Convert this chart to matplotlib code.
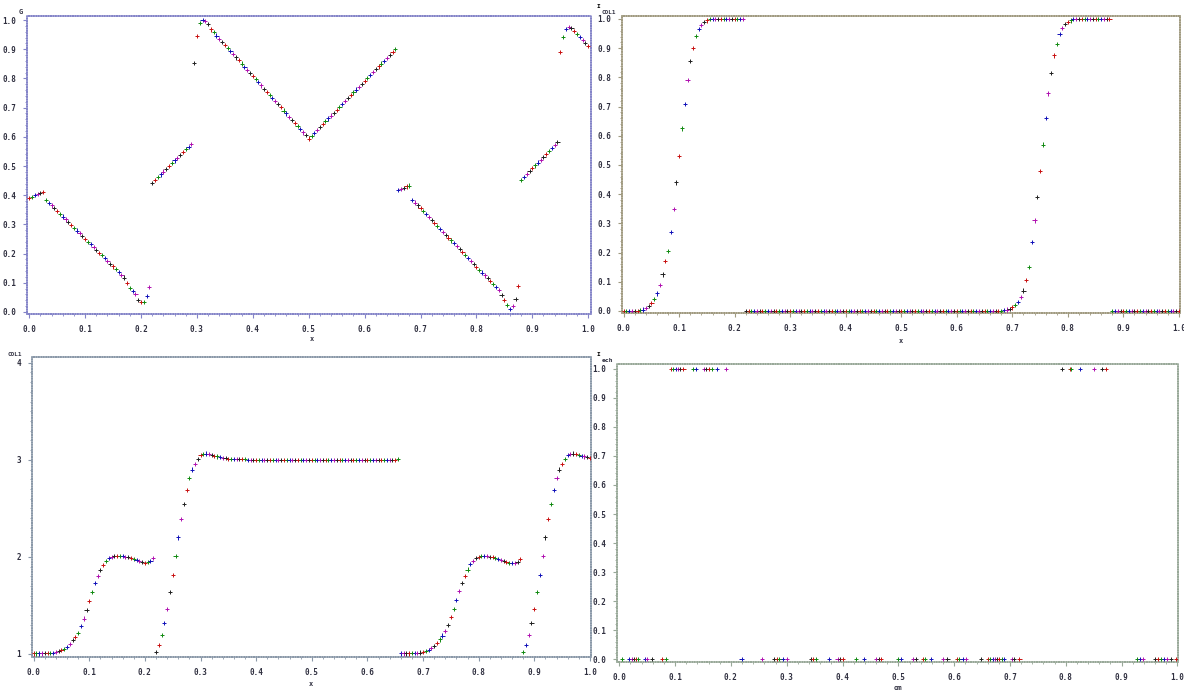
import numpy as np
import matplotlib
matplotlib.use("Agg")
import matplotlib.pyplot as plt
from matplotlib.ticker import MultipleLocator

W, H = 1184, 691

# sample positions (201 points, step 0.005)
x_grid = np.round(np.arange(201) * 0.005, 3)

# panel 1 : G
g_vals = ([0.389, 0.395, 0.400, 0.404, 0.408, 0.411]
          + [0.384, 0.374, 0.365, 0.355, 0.346, 0.336, 0.327, 0.317, 0.308, 0.298,
             0.289, 0.279, 0.270, 0.260, 0.251, 0.241, 0.232, 0.222, 0.213, 0.203,
             0.194, 0.184, 0.175, 0.165, 0.156, 0.146, 0.137, 0.127, 0.118]
          + [0.100, 0.082, 0.072, 0.062, 0.042, 0.033, 0.035, 0.055, 0.086]
          + [0.443, 0.452, 0.462, 0.471, 0.481, 0.490, 0.500, 0.509, 0.519, 0.528,
             0.538, 0.547, 0.557, 0.566, 0.576]
          + [0.852, 0.946, 0.991, 1.000, 0.997, 0.986, 0.968]
          + [0.958, 0.947, 0.936, 0.926, 0.915, 0.904, 0.894, 0.883, 0.872, 0.862,
             0.851, 0.840, 0.829, 0.819, 0.808, 0.797, 0.787, 0.776, 0.765, 0.755,
             0.744, 0.733, 0.722, 0.712, 0.701, 0.690, 0.680, 0.669, 0.658, 0.648,
             0.637, 0.626, 0.615, 0.605, 0.594]
          + [0.604, 0.614, 0.624, 0.633, 0.643, 0.653, 0.663, 0.673, 0.683, 0.693,
             0.703, 0.712, 0.722, 0.732, 0.742, 0.752, 0.762, 0.772, 0.782, 0.791,
             0.801, 0.811, 0.821, 0.831, 0.841, 0.851, 0.861, 0.870, 0.880, 0.890,
             0.900]
          + [0.418, 0.422, 0.426, 0.430, 0.433]
          + [0.385, 0.375, 0.365, 0.355, 0.345, 0.335, 0.325, 0.315, 0.305, 0.295,
             0.285, 0.275, 0.265, 0.255, 0.245, 0.235, 0.225, 0.215, 0.205, 0.195,
             0.185, 0.175, 0.165, 0.155, 0.145, 0.135, 0.125, 0.115, 0.105, 0.095,
             0.085, 0.075]
          + [0.058, 0.040, 0.024, 0.010, 0.020, 0.045, 0.088]
          + [0.452, 0.462, 0.472, 0.482, 0.492, 0.502, 0.512, 0.522, 0.532, 0.542,
             0.552, 0.562, 0.572, 0.582]
          + [0.890, 0.942, 0.970, 0.976, 0.972, 0.962, 0.952, 0.942, 0.932, 0.922,
             0.912])

# panel 2 : COL1 (0..1)
col1_a = ([0.0] * 6
          + [0.003, 0.005, 0.010, 0.016, 0.027, 0.040, 0.060, 0.090, 0.125, 0.170,
             0.205, 0.270, 0.350, 0.440, 0.530, 0.625, 0.710, 0.790, 0.855, 0.902,
             0.942, 0.965, 0.980, 0.990, 0.995]
          + [1.0] * 13
          + [0.0] * 93
          + [0.003, 0.005, 0.008, 0.012, 0.020, 0.030, 0.047, 0.070, 0.105, 0.150,
             0.235, 0.310, 0.390, 0.480, 0.570, 0.660, 0.745, 0.815, 0.875, 0.915,
             0.948, 0.970, 0.982, 0.990, 0.995]
          + [1.0] * 14
          + [0.0] * 25)

# panel 3 : COL1 (1..4)
col1_b = ([1.005, 1.005, 1.005, 1.005, 1.006, 1.007, 1.008, 1.012, 1.020, 1.030,
           1.040, 1.055, 1.075, 1.100, 1.140, 1.175, 1.220, 1.290, 1.365, 1.450,
           1.545, 1.640, 1.730, 1.800, 1.865, 1.920, 1.960, 1.985, 2.000, 2.010,
           2.010, 2.010, 2.005, 2.000, 1.995, 1.985, 1.978, 1.965, 1.955, 1.945,
           1.940, 1.945, 1.955, 1.985]
          + [1.020, 1.090, 1.195, 1.320, 1.460, 1.635, 1.810, 2.010, 2.200, 2.390,
             2.545, 2.690, 2.810, 2.900, 2.960, 3.010, 3.050, 3.060, 3.065, 3.060,
             3.050, 3.040, 3.035, 3.030, 3.020, 3.015, 3.010]
          + [3.005] * 6 + [3.0] * 54 + [3.01]
          + [1.005, 1.005, 1.005, 1.005, 1.006, 1.007, 1.010, 1.015, 1.022, 1.032,
             1.045, 1.060, 1.080, 1.110, 1.150, 1.190, 1.240, 1.300, 1.380, 1.460,
             1.555, 1.650, 1.735, 1.805, 1.870, 1.925, 1.962, 1.985, 2.000, 2.005,
             2.008, 2.005, 2.000, 1.995, 1.988, 1.980, 1.970, 1.960, 1.950, 1.940,
             1.935, 1.940, 1.950, 1.975]
          + [1.020, 1.090, 1.195, 1.320, 1.460, 1.635, 1.810, 2.010, 2.200, 2.390,
             2.545, 2.690, 2.810, 2.900, 2.960, 3.010, 3.050, 3.060, 3.065, 3.060,
             3.050, 3.040, 3.035, 3.030, 3.020])

# panel 4 : ech vs om
om_one = [0.093, 0.097, 0.102, 0.105, 0.109, 0.115, 0.132, 0.138, 0.151, 0.155,
          0.160, 0.166, 0.175, 0.191, 0.793, 0.807, 0.809, 0.826, 0.851, 0.865, 0.872]
om_zero = [0.005, 0.018, 0.022, 0.026, 0.030, 0.034, 0.046, 0.050, 0.059, 0.076,
           0.084, 0.219, 0.255, 0.278, 0.282, 0.287, 0.293, 0.301, 0.343, 0.347,
           0.353, 0.375, 0.391, 0.396, 0.400, 0.424, 0.439, 0.460, 0.465, 0.469,
           0.499, 0.504, 0.527, 0.532, 0.545, 0.548, 0.559, 0.580, 0.588, 0.605,
           0.609, 0.615, 0.621, 0.648, 0.660, 0.664, 0.669, 0.673, 0.677, 0.681,
           0.685, 0.689, 0.703, 0.707, 0.717, 0.928, 0.933, 0.939, 0.960, 0.966,
           0.971, 0.976, 0.982, 0.988, 0.998]
om_vals = om_one + om_zero
ech_vals = [1.0] * len(om_one) + [0.0] * len(om_zero)

plus_colors = ['#c81010', '#108a10', '#1010b8', '#b010b0', '#202020']
tick_font = dict(family='DejaVu Sans Mono', size=5.5, weight='bold')


def box(l, t, r, b):
    return [l / W, 1 - b / H, (r - l) / W, (b - t) / H]


def plus_plot(ax, xs, ys):
    cols = [plus_colors[k % len(plus_colors)] for k in range(len(xs))]
    ax.scatter(xs, ys, marker='+', s=9, c=cols, linewidths=0.7, zorder=3)


def style_axes(ax, spine_col, xmaj, xmin_, ymaj, ymin_, yfmt):
    for sp in ax.spines.values():
        sp.set_color(spine_col)
        sp.set_linewidth(1.1)
        sp.set_linestyle((0, (1, 0.6)))
    ax.xaxis.set_major_locator(MultipleLocator(xmaj))
    ax.xaxis.set_minor_locator(MultipleLocator(xmin_))
    ax.yaxis.set_major_locator(MultipleLocator(ymaj))
    ax.yaxis.set_minor_locator(MultipleLocator(ymin_))
    ax.tick_params(which='major', length=3, width=0.8, color=spine_col, pad=5)
    ax.tick_params(which='minor', length=1.5, width=0.6, color=spine_col)
    ax.xaxis.set_major_formatter(plt.FuncFormatter(lambda v, p: f"{v:.1f}"))
    ax.yaxis.set_major_formatter(plt.FuncFormatter(lambda v, p: yfmt.format(v)))
    for lab in ax.get_xticklabels() + ax.get_yticklabels():
        lab.set_fontfamily(tick_font['family'])
        lab.set_fontsize(tick_font['size'])
        lab.set_fontweight(tick_font['weight'])
        lab.set_color('#303040')


fig = plt.figure(figsize=(W / 100, H / 100), dpi=100)

# top left
ax1 = fig.add_axes(box(27, 15.7, 591, 314))
plus_plot(ax1, x_grid, g_vals)
ax1.set_xlim(-0.004, 1.005)
ax1.set_ylim(-0.007, 1.015)
style_axes(ax1, '#8484c8', 0.1, 0.02, 0.1, 0.02, "{:.1f}")

# top right
ax2 = fig.add_axes(box(622, 15.7, 1180, 313.3))
plus_plot(ax2, x_grid, col1_a)
ax2.set_xlim(-0.003, 1.002)
ax2.set_ylim(-0.008, 1.0113)
style_axes(ax2, '#a09a80', 0.1, 0.02, 0.1, 0.02, "{:.1f}")

# bottom left
ax3 = fig.add_axes(box(32, 357.3, 591, 656.7))
plus_plot(ax3, x_grid, col1_b)
ax3.set_xlim(-0.003, 1.002)
ax3.set_ylim(0.972, 4.056)
style_axes(ax3, '#8a98a8', 0.1, 0.02, 1, 0.1, "{:.0f}")

# bottom right
ax4 = fig.add_axes(box(617.3, 364, 1178, 661.7))
plus_plot(ax4, om_vals, ech_vals)
ax4.set_xlim(-0.0036, 1.001)
ax4.set_ylim(-0.009, 1.017)
style_axes(ax4, '#98a898', 0.1, 0.02, 0.1, 0.02, "{:.1f}")

lab_font = dict(family='DejaVu Sans Mono', fontsize=5, fontweight='bold', color='#303040')


def ftext(px, py, s, **kw):
    kw2 = dict(lab_font)
    kw2.update(kw)
    fig.text(px / W, 1 - py / H, s, ha='center', va='center', **kw2)


# axis titles
ftext(21, 12, "G")
ftext(609, 13, "COL1", fontsize=4.3)
ftext(15, 354, "COL1", fontsize=4.3)
ftext(608, 361, "ech", fontsize=4.6)
ftext(598, 7, "I", color='black', fontsize=4.5)
ftext(598, 355, "I", color='black', fontsize=4.5)
ftext(312, 339, "x")
ftext(901, 341, "x")
ftext(311, 684, "x")
ftext(898, 688, "om")

fig.savefig("out.png", dpi=100)
